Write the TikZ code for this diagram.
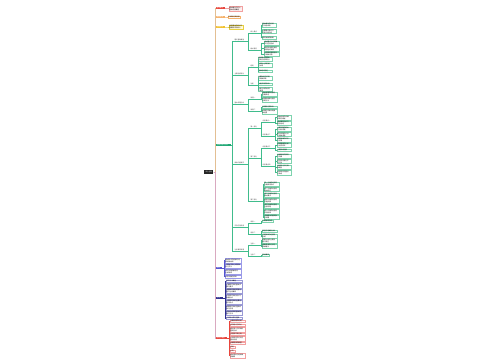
\documentclass[tikz,border=0pt]{standalone}
\usepackage{fontspec}
\newfontfamily\cjk{Noto Sans CJK SC}
\newcommand\fs{\cjk\fontsize{1.6}{2}\selectfont}
\definecolor{G}{HTML}{1FA774}
\definecolor{GL}{HTML}{40BC8C}
\definecolor{LG}{HTML}{7ED3AE}
\definecolor{R}{HTML}{E8453C}
\definecolor{PK}{HTML}{F2A0A0}
\definecolor{PKf}{HTML}{FDEEEE}
\definecolor{O}{HTML}{F6B26B}
\definecolor{Y}{HTML}{F2C12E}
\definecolor{Yb}{HTML}{E8D040}
\definecolor{Yf}{HTML}{FFF9DC}
\definecolor{B}{HTML}{5252D0}
\definecolor{LB}{HTML}{9A9AE8}
\definecolor{N}{HTML}{2F2F8F}
\definecolor{LN}{HTML}{9A9AD6}
\definecolor{TT}{HTML}{E3BF93}
\definecolor{TB}{HTML}{D9A9C0}
\newcommand\lnk[4][1.2]{\draw[link=#2] (#3) -- ++(#1,0) |- (#4);}
\begin{document}
\begin{tikzpicture}[x=1pt,y=-1pt,
 root/.style={fill=black!85, text=white, font=\fs, inner sep=0.6pt, minimum height=3.2pt, anchor=west, text width=8pt, align=center},
 lone/.style={fill=#1, text=white, font=\fs, inner sep=0.5pt, minimum height=2.8pt, anchor=west, align=left},
 leaf/.style={draw=#1, line width=0.2pt, fill=white, font=\fs, inner sep=0.35pt, anchor=west, align=left},
 sub/.style={font=\fs, text=black!75, inner sep=0.35pt, anchor=west, align=left,
   append after command={(\tikzlastnode.south west) edge[draw=#1, line width=0.25pt] (\tikzlastnode.south east)}},
 tw/.style={text width=#1pt},
 link/.style={draw=#1, line width=0.25pt}]
\useasboundingbox[fill=white] (0,0) rectangle (500,360);

% root
\node[root] (root) at (204,172) {中心主题};

% level 1
\node[lone=R, tw=8] (r1) at (216,8) {基本概念};
\node[lone=O, tw=8] (o1) at (216,17) {发展背景};
\node[lone=Y, tw=8] (y1) at (216,27) {主要特点};
\node[lone=G, tw=14] (g1) at (216,145) {主要内容与分析};
\node[lone=B, tw=5] (u1) at (216,268) {其他};
\node[lone=N, tw=6] (n1) at (216,298) {方法};
\node[lone=R, tw=10] (r2) at (216,338) {总结与展望};

\foreach \c in {r1,o1,y1,g1} {\lnk[1.5]{TT}{root.east}{\c.west}}
\foreach \c in {u1,n1,r2} {\lnk[1.5]{TB}{root.east}{\c.west}}

% top leaves
\node[leaf=PK, fill=PKf, tw=12] (r1a) at (229,8.5) {相关概念与定义\\基本内容概述};
\node[leaf=O, tw=11] (o1a) at (228,17) {形成的历史背景};
\node[leaf=Yb, fill=Yf, tw=13] (y1a) at (229,27) {具有明显的特点与\\重要的实际意义};
\lnk[2]{PK}{r1.east}{r1a.west}
\lnk[1.5]{O}{o1.east}{o1a.west}
\lnk[2]{Yb}{y1.east}{y1a.west}

% green level 2
\node[sub=GL, tw=12] (A) at (234,40) {理论基础概述};
\node[sub=GL, tw=12] (Bn) at (234,74) {主要组成部分};
\node[sub=GL, tw=12] (C) at (234,103) {基本原理分析};
\node[sub=GL, tw=12] (D) at (234,163) {具体内容展开};
\node[sub=GL, tw=12] (E) at (234,226) {实际应用场景};
\node[sub=GL, tw=12] (F) at (234,250) {注意事项说明};
\foreach \c in {A,Bn,C,D,E,F} {\lnk[1]{GL}{g1.east}{\c.south west}}

% green level 3
\node[sub=GL, tw=9] (a1) at (250,32) {核心要点};
\node[sub=GL, tw=9] (a2) at (250,49) {相关理论};
\node[sub=GL, tw=6] (b1) at (250,66) {结构};
\node[sub=GL, tw=6] (b2) at (250,84) {功能};
\node[sub=GL, tw=9] (c1) at (250,98) {原理一};
\node[sub=GL, tw=9] (c2) at (250,110) {原理二};
\node[sub=GL, tw=9] (d1) at (250,127) {第一部分};
\node[sub=GL, tw=9] (d2) at (250,157) {第二部分};
\node[sub=GL, tw=11] (d3) at (250,200) {第三部分};
\node[sub=GL, tw=9] (e1) at (250,222) {场景一};
\node[sub=GL, tw=9] (e2) at (250,233) {场景二};
\node[sub=GL, tw=9] (f1) at (250,244) {注意一};
\node[sub=GL, tw=9] (f2) at (250,255) {注意二};
\foreach \p/\c in {A/a1,A/a2,Bn/b1,Bn/b2,C/c1,C/c2,D/d1,D/d2,D/d3,E/e1,E/e2,F/f1,F/f2}
  {\lnk[1]{GL}{\p.south east}{\c.south west}}

% green level 4 under A
\node[leaf=LG, tw=13] (a1a) at (262,25) {基本概念的内涵\\与外延说明};
\node[leaf=LG, tw=13] (a1b) at (262,31.5) {主要理论观点与\\代表人物介绍};
\node[leaf=LG, tw=13] (a1c) at (262,37.5) {理论发展的脉络};
\node[leaf=LG, tw=14] (a2a) at (264,43) {相关理论之间的联\\系与区别分析};
\node[leaf=LG, tw=14] (a2b) at (264,48.5) {理论的适用范围与\\局限性的说明};
\node[leaf=LG, tw=14] (a2c) at (264,54) {对实践的指导意义\\与具体作用};

% under B
\node[leaf=LG, tw=13] (b1a) at (258,59) {组成部分的基本\\结构与层次划分};
\node[leaf=LG, tw=13] (b1b) at (258,65) {各部分之间的相\\互关系};
\node[leaf=LG, tw=13] (b1c) at (258,71) {整体结构特征};
\node[leaf=LG, tw=13] (b2a) at (258,78) {主要功能与作用\\的具体表现};
\node[leaf=LG, tw=13] (b2b) at (258,84) {功能实现的条件};
\node[leaf=LG, tw=13] (b2c) at (258,89.5) {功能之间的协调\\与配合};

% under C
\node[leaf=LG, tw=14] (c1a) at (262,94) {基本原理的内容与\\主要表述};
\node[leaf=LG, tw=14] (c1b) at (262,99.5) {原理的推导过程与\\证明方法};
\node[leaf=LG, tw=14] (c2a) at (262,107) {原理的应用条件};
\node[leaf=LG, tw=14] (c2b) at (262,111.5) {原理在实践中的具\\体运用};

% under D
\node[sub=GL, tw=11] (d11) at (262,121) {内容要点一};
\node[sub=GL, tw=11] (d12) at (262,135) {内容要点二};
\node[sub=GL, tw=11] (d21) at (262,147) {内容要点三};
\node[sub=GL, tw=11] (d22) at (262,165) {内容要点四};
\foreach \p/\c in {d1/d11,d1/d12,d2/d21,d2/d22}
  {\lnk[1]{GL}{\p.south east}{\c.south west}}
\node[leaf=LG, tw=13] (d11a) at (277,117.5) {具体内容的详细\\说明与阐述};
\node[leaf=LG, tw=13] (d11b) at (277,123) {相关案例分析与\\经验总结};
\node[leaf=LG, tw=13] (d12a) at (277,129) {主要问题的提出\\与分析思路};
\node[leaf=LG, tw=13] (d12b) at (277,134.5) {解决问题的方法\\与具体措施};
\node[leaf=LG, tw=13] (d12c) at (277,140) {实施效果的评价\\与反馈};
\node[leaf=LG, tw=13] (d21a) at (277,145) {影响因素的分析\\与比较研究};
\node[leaf=LG, tw=13] (d21b) at (277,150) {主要影响因素};
\node[leaf=LG, tw=13] (d22a) at (277,156) {发展趋势的预测\\与判断};
\node[leaf=LG, tw=13] (d22b) at (277,161.5) {存在的问题与不\\足之处};
\node[leaf=LG, tw=13] (d22c) at (277,167) {改进的方向与具\\体建议};
\node[leaf=LG, tw=13] (d22d) at (277,172.5) {未来研究的重点\\与难点};
\node[leaf=LG, tw=14] (d3a) at (264,184) {第一方面的内容与\\主要表现形式};
\node[leaf=LG, tw=14] (d3b) at (264,189.5) {第二方面的内容与\\基本特征};
\node[leaf=LG, tw=14] (d3c) at (264,195) {第三方面的内容与\\相关要求};
\node[leaf=LG, tw=14] (d3d) at (264,200.5) {第四方面的内容与\\实施步骤};
\node[leaf=LG, tw=14] (d3e) at (264,206) {第五方面的内容与\\注意问题};
\node[leaf=LG, tw=14] (d3f) at (264,211.5) {第六方面的内容与\\评价标准};
\node[leaf=LG, tw=14] (d3g) at (264,217) {其他相关内容的补\\充说明};

% under E, F
\node[leaf=LG, tw=10] (e1a) at (262,221) {应用领域介绍};
\node[leaf=LG, tw=14] (e2a) at (262,231) {典型应用案例分析};
\node[leaf=LG, tw=14] (e2b) at (262,236) {应用效果与经验的\\总结};
\node[leaf=LG, tw=14] (f1a) at (262,240.5) {需要注意的主要问\\题与误区};
\node[leaf=LG, tw=14] (f1b) at (262,246) {避免错误的方法与\\具体建议};
\node[leaf=LG, tw=6] (f2a) at (262,255) {其他事项};

\foreach \p/\c in {a1/a1a,a1/a1b,a1/a1c,a2/a2a,a2/a2b,a2/a2c,
  b1/b1a,b1/b1b,b1/b1c,b2/b2a,b2/b2b,b2/b2c,c1/c1a,c1/c1b,c2/c2a,c2/c2b,
  d11/d11a,d11/d11b,d12/d12a,d12/d12b,d12/d12c,d21/d21a,d21/d21b,
  d22/d22a,d22/d22b,d22/d22c,d22/d22d,
  d3/d3a,d3/d3b,d3/d3c,d3/d3d,d3/d3e,d3/d3f,d3/d3g,
  e1/e1a,e2/e2a,e2/e2b,f1/f1a,f1/f1b,f2/f2a}
  {\lnk[1]{GL}{\p.south east}{\c.west}}

% blue branch
\node[leaf=LB, tw=15] (u1a) at (225,260.5) {相关知识的拓展与延\\伸阅读材料};
\node[leaf=LB, tw=15] (u1b) at (225,266) {与其他学科之间的联\\系与交叉};
\node[leaf=LB, tw=15] (u1c) at (225,271.5) {常见问题的解答与\\分析说明};
\node[leaf=LB, tw=15] (u1d) at (225,276.5) {参考文献与资料};
\foreach \c in {u1a,u1b,u1c,u1d} {\lnk[1.5]{B}{u1.east}{\c.west}}

% navy branch
\node[leaf=LN, tw=15] (n1a) at (226,281) {研究方法概述};
\node[leaf=LN, tw=15] (n1b) at (226,285.5) {文献研究法的基本步\\骤与要求};
\node[leaf=LN, tw=15] (n1c) at (226,291) {调查研究法的实施过\\程与注意事项};
\node[leaf=LN, tw=15] (n1d) at (226,296.5) {实验研究法的设计与\\数据分析};
\node[leaf=LN, tw=15] (n1e) at (226,302) {比较研究法的主要内\\容与特点};
\node[leaf=LN, tw=15] (n1f) at (226,307.5) {案例研究法的选择标\\准与应用};
\node[leaf=LN, tw=15] (n1g) at (226,313) {综合分析法的基本思\\路与方法};
\node[leaf=LN, tw=15] (n1h) at (226,318) {方法的比较与选择};
\foreach \c in {n1a,n1b,n1c,n1d,n1e,n1f,n1g,n1h} {\lnk[1.5]{N}{n1.east}{\c.west}}

% red bottom branch
\node[leaf=PK, tw=14] (r2a) at (230,321) {主要内容的总结};
\node[leaf=PK, tw=14] (r2b) at (230,325) {研究结论与观点};
\node[leaf=PK, tw=14] (r2c) at (230,329.5) {理论意义与实践价\\值的分析};
\node[leaf=PK, tw=14] (r2d) at (230,334) {存在的不足之处};
\node[leaf=PK, tw=14] (r2e) at (230,338.5) {今后研究的方向与\\重点内容};
\node[leaf=PK, tw=14] (r2f) at (230,343) {发展前景的展望};
\node[leaf=PK, tw=4] (r2g) at (230,347) {其他};
\node[leaf=PK, tw=4] (r2h) at (230,351) {补充};
\node[leaf=PK, tw=14] (r2i) at (230,355.5) {相关资料与延伸阅\\读推荐};
\foreach \c in {r2a,r2b,r2c,r2d,r2e,r2f,r2g,r2h,r2i} {\lnk[1.5]{R}{r2.east}{\c.west}}
\end{tikzpicture}
\end{document}
